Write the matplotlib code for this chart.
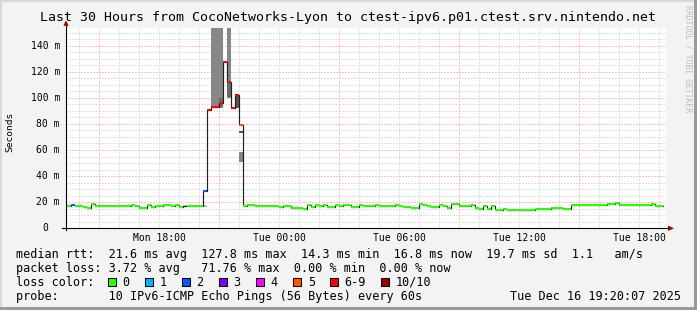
import datetime as dt
import numpy as np
import matplotlib
matplotlib.use("Agg")
import matplotlib.pyplot as plt
import matplotlib.transforms as mtransforms
from matplotlib.patches import Rectangle, Polygon

# ---------------- data ----------------
title = "Last 30 Hours from CocoNetworks-Lyon to ctest-ipv6.p01.ctest.srv.nintendo.net"
range_start = dt.datetime(2025, 12, 15, 13, 20, 7)
range_hours = 30
first_step = dt.datetime(2025, 12, 15, 13, 12, 0)
step_minutes = 12
y_max_ms = 153.3

median_ms = [
    17.3, 17.3, 17.6, 17.3, 17.3, 16.6, 15.3, 18.9, 17.3, 17.3,
    17.3, 17.3, 17.3, 16.9, 17.3, 17.3, 17.3, 18.1, 16.9, 15.8,
    15.8, 17.7, 16.3, 17.0, 17.0, 18.1, 18.1, 17.3, 17.7, 16.6,
    17.3, 17.0, 17.0, 17.3, 17.3, 28.6, 91.0, 93.0, 93.0, 96.0,
    127.8, 112.0, 92.0, 102.0, 79.0, 16.8, 18.1, 17.5, 16.8, 17.2,
    16.8, 17.2, 16.8, 16.8, 16.0, 17.2, 16.8, 15.3, 15.8, 15.8,
    15.1, 17.7, 16.0, 18.1, 17.0, 17.5, 16.0, 16.0, 18.1, 16.8,
    17.5, 18.1, 16.3, 16.3, 18.1, 17.0, 17.0, 17.0, 18.1, 17.2,
    17.2, 17.2, 16.8, 18.1, 17.0, 16.6, 16.6, 15.8, 15.8, 18.6,
    17.7, 17.0, 16.6, 16.6, 18.1, 17.0, 15.8, 19.0, 18.4, 17.2,
    16.8, 16.8, 17.7, 15.8, 15.1, 17.2, 15.1, 16.8, 14.3, 14.3,
    15.1, 14.3, 14.3, 14.3, 14.3, 14.3, 14.3, 14.3, 14.8, 14.8,
    14.8, 14.8, 15.3, 15.3, 15.3, 14.5, 14.5, 17.7, 18.2, 18.2,
    18.2, 18.2, 18.2, 17.7, 17.7, 17.7, 18.6, 18.6, 19.4, 18.2,
    17.7, 17.7, 17.7, 18.2, 18.2, 18.2, 18.2, 18.9, 16.8, 16.8,
]

loss_pings = [
    0, 0, 2, 0, 0, 0, 0, 0, 0, 0,
    0, 0, 0, 0, 0, 0, 0, 0, 0, 0,
    0, 0, 0, 0, 0, 0, 0, 0, 0, 0,
    0.5, 0, 0, 0, 0, 2, 7, 7, 7, 7,
    7, 7, 7, 7, 5, 0, 0, 0, 0, 0,
    0, 0, 0, 0, 0, 0, 0, 0, 0, 0,
    0, 0, 0, 0, 0, 0, 0, 0, 0, 0,
    0, 0, 0, 0, 0, 0, 0, 0, 0, 0,
    0, 0, 0, 0, 0, 0, 0, 0, 0, 0,
    0, 0, 0, 0, 0, 0, 0, 0, 0, 0,
    0, 0, 0, 0, 0, 0, 0, 0, 0, 0,
    0, 0, 0, 0, 0, 0, 0, 0, 0, 0,
    0, 0, 0, 0, 0, 0, 0, 0, 0, 0,
    0, 0, 0, 0, 0, 0, 0, 0, 0, 0,
    0, 0, 0, 0, 0, 0, 0, 0, 0, 0,
]

smoke_step = [30, 35, 37, 38, 39, 39, 41, 41, 43, 44, 44]
smoke_lo = [16.8, 16.7, 92.4, 92.4, 92.4, 93.0, 99.6, 100.8, 92.0, 73.0, 51.0]
smoke_hi = [17.9, 17.6, 200.0, 200.0, 200.0, 99.6, 200.0, 112.3, 102.0, 74.5, 58.7]
smoke_density = [1, 1, 2, 2, 2, 3, 2, 3, 4, 4, 2]

loss_labels = ["0", "1", "2", "3", "4", "5", "6-9", "10/10"]
loss_colors = ["#26ff00", "#00b8ff", "#0059ff", "#7e00ff", "#ff00ff",
               "#ff5500", "#ff0000", "#a10000"]

ytick_values = [0, 20, 40, 60, 80, 100, 120, 140]
ytick_labels = ["0", "20 m", "40 m", "60 m", "80 m", "100 m", "120 m", "140 m"]
xtick_times = [dt.datetime(2025, 12, 15, 18), dt.datetime(2025, 12, 16, 0),
               dt.datetime(2025, 12, 16, 6), dt.datetime(2025, 12, 16, 12),
               dt.datetime(2025, 12, 16, 18)]
xtick_labels = ["Mon 18:00", "Tue 00:00", "Tue 06:00", "Tue 12:00", "Tue 18:00"]

stats_rtt = "median rtt:  21.6 ms avg  127.8 ms max  14.3 ms min  16.8 ms now  19.7 ms sd  1.1   am/s"
stats_loss = "packet loss: 3.72 % avg   71.76 % max  0.00 % min  0.00 % now"
probe_text = "probe:       10 IPv6-ICMP Echo Pings (56 Bytes) every 60s"
stamp_text = "Tue Dec 16 19:20:07 2025"

# ---------------- layout ----------------
W, H, DPI = 697, 310, 100
MONO = "DejaVu Sans Mono"
fig = plt.figure(figsize=(W / DPI, H / DPI), dpi=DPI, facecolor="#f3f3f3")

AX_L, AX_R, AX_T, AX_B = 66, 666, 28.3, 228.3
axw, axh = AX_R - AX_L, AX_B - AX_T
ax = fig.add_axes([AX_L / W, (H - AX_B) / H, axw / W, axh / H])
ax.set_facecolor("white")
for s in ax.spines.values():
    s.set_visible(False)
ax.set_xticks([])
ax.set_yticks([])
ax.set_xlim(0, range_hours)
ax.set_ylim(0, y_max_ms)


def hours(t):
    return (t - range_start).total_seconds() / 3600.0


step_h = step_minutes / 60.0
n = len(median_ms)
edges = hours(first_step) + step_h * np.arange(n + 1)
med = np.array(median_ms)

# grid
for v in np.arange(5, y_max_ms, 5):
    major = (v % 20 == 0)
    ax.axhline(v, color="#ff8080" if major else "#c4c4c4", lw=0.72,
               ls=(0, (1, 2)), zorder=1)
t = dt.datetime(2025, 12, 15, 14)
end_t = range_start + dt.timedelta(hours=range_hours)
while t < end_t:
    major = (t.hour % 6 == 3)
    ax.axvline(hours(t), color="#ff8080" if major else "#c4c4c4", lw=0.72,
               ls=(0, (1, 2)), zorder=1)
    t += dt.timedelta(hours=1)

# smoke
smoke_cols = {1: "#c0c0c0", 2: "#878787", 3: "#6a6a6a", 4: "#575757"}
for i, lo, hi, d in zip(smoke_step, smoke_lo, smoke_hi, smoke_density):
    ax.bar(edges[i], hi - lo, width=step_h, bottom=lo, align="edge",
           color=smoke_cols[d], linewidth=0, zorder=2)

# median black line
ax.step(edges, np.append(med, med[-1]), where="post", color="#202020",
        lw=0.85, zorder=3)


def loss_class(l):
    if l != int(l):
        return None
    l = int(l)
    if l <= 5:
        return l
    if l < 10:
        return 6
    return 7


classes = [loss_class(l) for l in loss_pings]
sw = y_max_ms / axh  # one pixel in ms
i = 0
while i < n:
    c = classes[i]
    j = i
    while j + 1 < n and classes[j + 1] == c and med[j + 1] == med[i]:
        j += 1
    if c is not None:
        ax.bar(edges[i], 2 * sw, width=step_h * (j - i + 1), bottom=med[i] - sw,
               align="edge", color=loss_colors[c], linewidth=0, zorder=4)
    i = j + 1

# axes lines and arrows
px = 1.0 / axw
py = 1.0 / axh
ax.plot([-4 * px, 602 * px], [0, 0], color="black", lw=0.8,
        transform=ax.transAxes, clip_on=False, zorder=6)
ax.plot([0, 0], [-2 * py, 203 * py], color="black", lw=0.8,
        transform=ax.transAxes, clip_on=False, zorder=6)
ax.add_patch(Polygon([[602 * px, -2.7 * py], [602 * px, 2.7 * py], [608 * px, 0]],
                     closed=True, transform=ax.transAxes, clip_on=False,
                     facecolor="#a00000", edgecolor="none", zorder=6))
ax.add_patch(Polygon([[-2.7 * px, 202.5 * py], [2.7 * px, 202.5 * py], [0, 208 * py]],
                     closed=True, transform=ax.transAxes, clip_on=False,
                     facecolor="#a00000", edgecolor="none", zorder=6))

# tick labels
ytr = mtransforms.blended_transform_factory(ax.transAxes, ax.transData)
for v, lab in zip(ytick_values, ytick_labels):
    off = 6 if lab.endswith("m") else 18
    ax.text(-off * px, v, lab, transform=ytr, ha="right", va="center",
            family=MONO, fontsize=7.0, color="black")
xtr = mtransforms.blended_transform_factory(ax.transData, ax.transAxes)
for tt, lab in zip(xtick_times, xtick_labels):
    ax.text(hours(tt), -9.5 * py, lab, transform=xtr, ha="center", va="center",
            family=MONO, fontsize=7.0, color="black")

# y label
fig.text(10 / W, 1 - 132 / H, "Seconds", rotation=90, ha="center", va="center",
         family=MONO, fontsize=6.8, color="black")

# title
fig.text(347.5 / W, 1 - 18 / H, title, ha="center", va="center",
         family=MONO, fontsize=9.58, color="black")

# watermark
fig.text(688 / W, 1 - 5 / H, "RRDTOOL / TOBI OETIKER", rotation=270,
         ha="center", va="top", family=MONO, fontsize=5.9, color="#bdbdbd")

# legend lines
LEG = 8.5
fig.text(16 / W, 1 - 254.3 / H, stats_rtt, ha="left", va="center", family=MONO, fontsize=LEG)
fig.text(16 / W, 1 - 268.3 / H, stats_loss, ha="left", va="center", family=MONO, fontsize=LEG)
fig.text(16 / W, 1 - 282.3 / H, "loss color:", ha="left", va="center", family=MONO, fontsize=LEG)
fig.text(16 / W, 1 - 296.3 / H, probe_text, ha="left", va="center", family=MONO, fontsize=LEG)
fig.text(681 / W, 1 - 296.3 / H, stamp_text, ha="right", va="center", family=MONO, fontsize=LEG)

cw = 7.03
xb = 108.0
for lab, col in zip(loss_labels, loss_colors):
    fig.add_artist(Rectangle((xb / W, (H - 285.7) / H), 7.6 / W, 7.6 / H,
                             transform=fig.transFigure, facecolor=col,
                             edgecolor="black", lw=0.75))
    fig.text((xb + 14.5) / W, 1 - 282.3 / H, lab, ha="left", va="center",
             family=MONO, fontsize=LEG)
    xb += 30.0 + cw * len(lab)

# frame
fig.add_artist(Rectangle((0, (H - 2) / H), 1, 2 / H, transform=fig.transFigure,
                         facecolor="#d8d8d8", edgecolor="none"))
fig.add_artist(Rectangle((0, 0), 2 / W, 1, transform=fig.transFigure,
                         facecolor="#d8d8d8", edgecolor="none"))
fig.add_artist(Rectangle((0, 0), 1, 3 / H, transform=fig.transFigure,
                         facecolor="#9a9a9a", edgecolor="none"))
fig.add_artist(Rectangle(((W - 3) / W, 0), 3 / W, 1, transform=fig.transFigure,
                         facecolor="#9a9a9a", edgecolor="none"))

fig.savefig("out.png", dpi=DPI, facecolor=fig.get_facecolor())
